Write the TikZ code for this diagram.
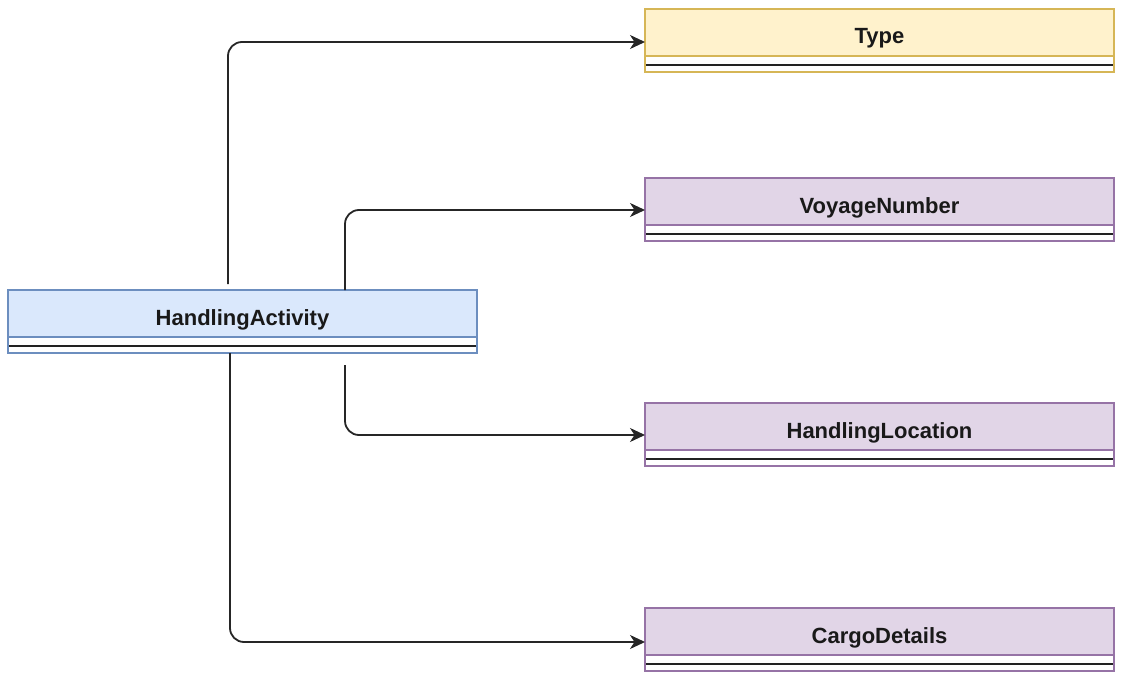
\documentclass[tikz,border=0pt]{standalone}
\usepackage{fontspec}
\setmainfont{Liberation Sans}
\usetikzlibrary{arrows.meta,calc}
\definecolor{blueF}{HTML}{DAE8FC}
\definecolor{blueS}{HTML}{6C8EBF}
\definecolor{yelF}{HTML}{FFF2CC}
\definecolor{yelS}{HTML}{D6B656}
\definecolor{purF}{HTML}{E1D5E7}
\definecolor{purS}{HTML}{9673A6}
\definecolor{sepC}{HTML}{222222}
\tikzset{
  hdrbox/.style={minimum width=469pt, minimum height=47pt, inner sep=0pt, outer sep=0pt, anchor=north west, line width=1.5pt},
  lbl/.style={font=\fontsize{22}{26}\selectfont\bfseries, text=black!90, anchor=base, inner sep=0pt},
  sepline/.style={line width=2.8pt, draw=sepC},
  conn/.style={line width=1.8pt, draw=black!85, rounded corners=14pt, -{Stealth[length=15pt,width=14pt,inset=4.5pt]}},
}
\newcommand{\umlbox}[6]{%
  \fill[white] ($(#2,#3)+(0,47)$) rectangle ++(469,16);
  \draw[#5, line width=1.5pt] ($(#2,#3)+(0,47)$) rectangle ++(469,16);
  \node[hdrbox, fill=#4, draw=#5] (#1) at (#2,#3) {};
  \node[lbl] (#1-t) at ($(#1.north)+(0,35)$) {#6};
  \draw[sepline] ($(#1.south west)+(0.75,9)$) -- ($(#1.south east)+(-0.75,9)$);
}
\begin{document}
\begin{tikzpicture}[x=1pt,y=-1pt]
\useasboundingbox (0,0) rectangle (1122,682);
\umlbox{ha}{8}{290}{blueF}{blueS}{HandlingActivity}
\umlbox{type}{645}{9}{yelF}{yelS}{Type}
\umlbox{voy}{645}{178}{purF}{purS}{VoyageNumber}
\umlbox{loc}{645}{403}{purF}{purS}{HandlingLocation}
\umlbox{cargo}{645}{608}{purF}{purS}{CargoDetails}
% connector start points
\coordinate (s1) at ($(ha.north west)+(220,-6)$);
\coordinate (s2) at ($(ha.north west)+(337,0)$);
\coordinate (s3) at ($(ha.north west)+(337,75)$);
\coordinate (s4) at ($(ha.north west)+(222,63)$);
\draw[conn] (s1) |- ($(type.north west)+(0,33)$);
\draw[conn] (s2) |- ($(voy.north west)+(0,32)$);
\draw[conn] (s3) |- ($(loc.north west)+(0,32)$);
\draw[conn] (s4) |- ($(cargo.north west)+(0,34)$);
\end{tikzpicture}
\end{document}
